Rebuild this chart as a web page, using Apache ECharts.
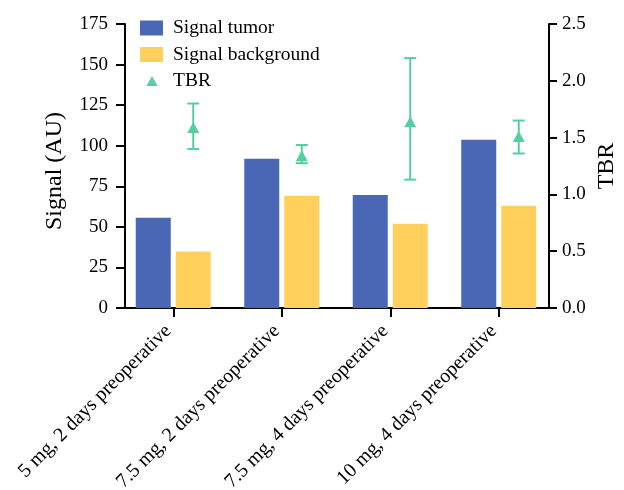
<!DOCTYPE html>
<html><head><meta charset="utf-8">
<script src="https://cdn.jsdelivr.net/npm/echarts@6/dist/echarts.min.js"></script>
<style>html,body{margin:0;padding:0;background:#fff}#c{width:624px;height:490px}</style>
</head><body><div id="c"></div>
<script>
const categories = ['5 mg, 2 days preoperative', '7.5 mg, 2 days preoperative', '7.5 mg, 4 days preoperative', '10 mg, 4 days preoperative'];
const signalTumor = [55.6, 91.9, 69.7, 103.6];
const signalBackground = [34.8, 69.1, 51.9, 63.0];
const tbrMean = [1.59, 1.34, 1.64, 1.51];
const tbrLow = [1.40, 1.275, 1.13, 1.36];
const tbrHigh = [1.80, 1.435, 2.20, 1.65];
const signalAxis = { min: 0, max: 175, interval: 25 };
const tbrAxis = { min: 0, max: 2.5, interval: 0.5 };

const BLUE = '#4A67B5', YELLOW = '#FFD15C', GREEN = '#55CF9F';
const FONT = "'Liberation Serif', 'Times New Roman', serif";
const BAR_W = 35, BAR_GAP = 5;
const TBR_OFFSET = (BAR_W + BAR_GAP) / 2;

const chart = echarts.init(document.getElementById('c'), null, { renderer: 'canvas' });
const axisLineStyle = { color: '#000', width: 2 };
chart.setOption({
  animation: false,
  backgroundColor: '#fff',
  grid: { left: 119, right: 71, top: 24, bottom: 182, containLabel: false, outerBoundsMode: 'none' },
  legend: {
    orient: 'vertical', left: 140, top: 18, padding: 0, itemGap: 6.5,
    itemWidth: 23, itemHeight: 15,
    textStyle: { fontFamily: FONT, fontSize: 19.5, color: '#000', padding: [0, 0, 0, 5] },
    data: [
      { name: 'Signal tumor', icon: 'rect', itemStyle: { color: BLUE } },
      { name: 'Signal background', icon: 'rect', itemStyle: { color: YELLOW } },
      { name: 'TBR', icon: 'path://M0,0 M23,15 M6.5,12.5 L12,2.5 L17.5,12.5 Z', itemStyle: { color: GREEN } }
    ]
  },
  xAxis: {
    type: 'category', data: categories,
    axisLine: { lineStyle: axisLineStyle },
    axisTick: { show: true, alignWithLabel: true, length: 9, lineStyle: { width: 2, color: '#000' } },
    axisLabel: { interval: 0, rotate: 45, margin: 15, padding: [0, 7, 0, 0], fontFamily: FONT, fontSize: 20, color: '#000' },
    splitLine: { show: false }
  },
  yAxis: [
    {
      type: 'value', position: 'left', offset: -6,
      min: signalAxis.min, max: signalAxis.max, interval: signalAxis.interval,
      name: 'Signal (AU)', nameLocation: 'middle', nameGap: 58, nameRotate: 90, nameMoveOverlap: false,
      nameTextStyle: { fontFamily: FONT, fontSize: 24, color: '#000', padding: [0, 10, 0, 0] },
      axisLine: { show: true, lineStyle: axisLineStyle },
      axisTick: { show: true, length: 9, lineStyle: { width: 2, color: '#000' } },
      axisLabel: { margin: 17, fontFamily: FONT, fontSize: 19, color: '#000' },
      splitLine: { show: false }
    },
    {
      type: 'value', position: 'right', offset: -4,
      min: tbrAxis.min, max: tbrAxis.max, interval: tbrAxis.interval,
      name: 'TBR', nameLocation: 'middle', nameGap: 46, nameRotate: 90, nameMoveOverlap: false,
      nameTextStyle: { fontFamily: FONT, fontSize: 24, color: '#000' },
      axisLine: { show: true, lineStyle: axisLineStyle },
      axisTick: { show: true, length: 8, lineStyle: { width: 2, color: '#000' } },
      axisLabel: { margin: 13, fontFamily: FONT, fontSize: 19, color: '#000', formatter: v => v.toFixed(1) },
      splitLine: { show: false }
    }
  ],
  series: [
    { name: 'Signal tumor', type: 'bar', data: signalTumor, barWidth: BAR_W, barGap: (BAR_GAP / BAR_W * 100) + '%', itemStyle: { color: BLUE } },
    { name: 'Signal background', type: 'bar', data: signalBackground, barWidth: BAR_W, itemStyle: { color: YELLOW } },
    {
      name: 'TBR', type: 'custom', yAxisIndex: 1, z: 3,
      itemStyle: { color: GREEN },
      data: categories.map((c, i) => [i, tbrLow[i], tbrHigh[i]]),
      encode: { x: 0, y: [1, 2] },
      renderItem: (params, api) => {
        const lo = api.coord([api.value(0), api.value(1)]);
        const hi = api.coord([api.value(0), api.value(2)]);
        const x = lo[0] + TBR_OFFSET;
        const st = { stroke: GREEN, lineWidth: 2 };
        return { type: 'group', children: [
          { type: 'line', shape: { x1: x, y1: lo[1], x2: x, y2: hi[1] }, style: st },
          { type: 'line', shape: { x1: x - 6, y1: hi[1], x2: x + 6, y2: hi[1] }, style: st },
          { type: 'line', shape: { x1: x - 6, y1: lo[1], x2: x + 6, y2: lo[1] }, style: st }
        ] };
      }
    },
    {
      name: 'TBR', type: 'scatter', yAxisIndex: 1, z: 4, data: tbrMean,
      symbol: 'triangle', symbolSize: [12, 11], symbolOffset: [TBR_OFFSET, 0],
      itemStyle: { color: GREEN, opacity: 1 }
    }
  ]
});
</script>
</body></html>
